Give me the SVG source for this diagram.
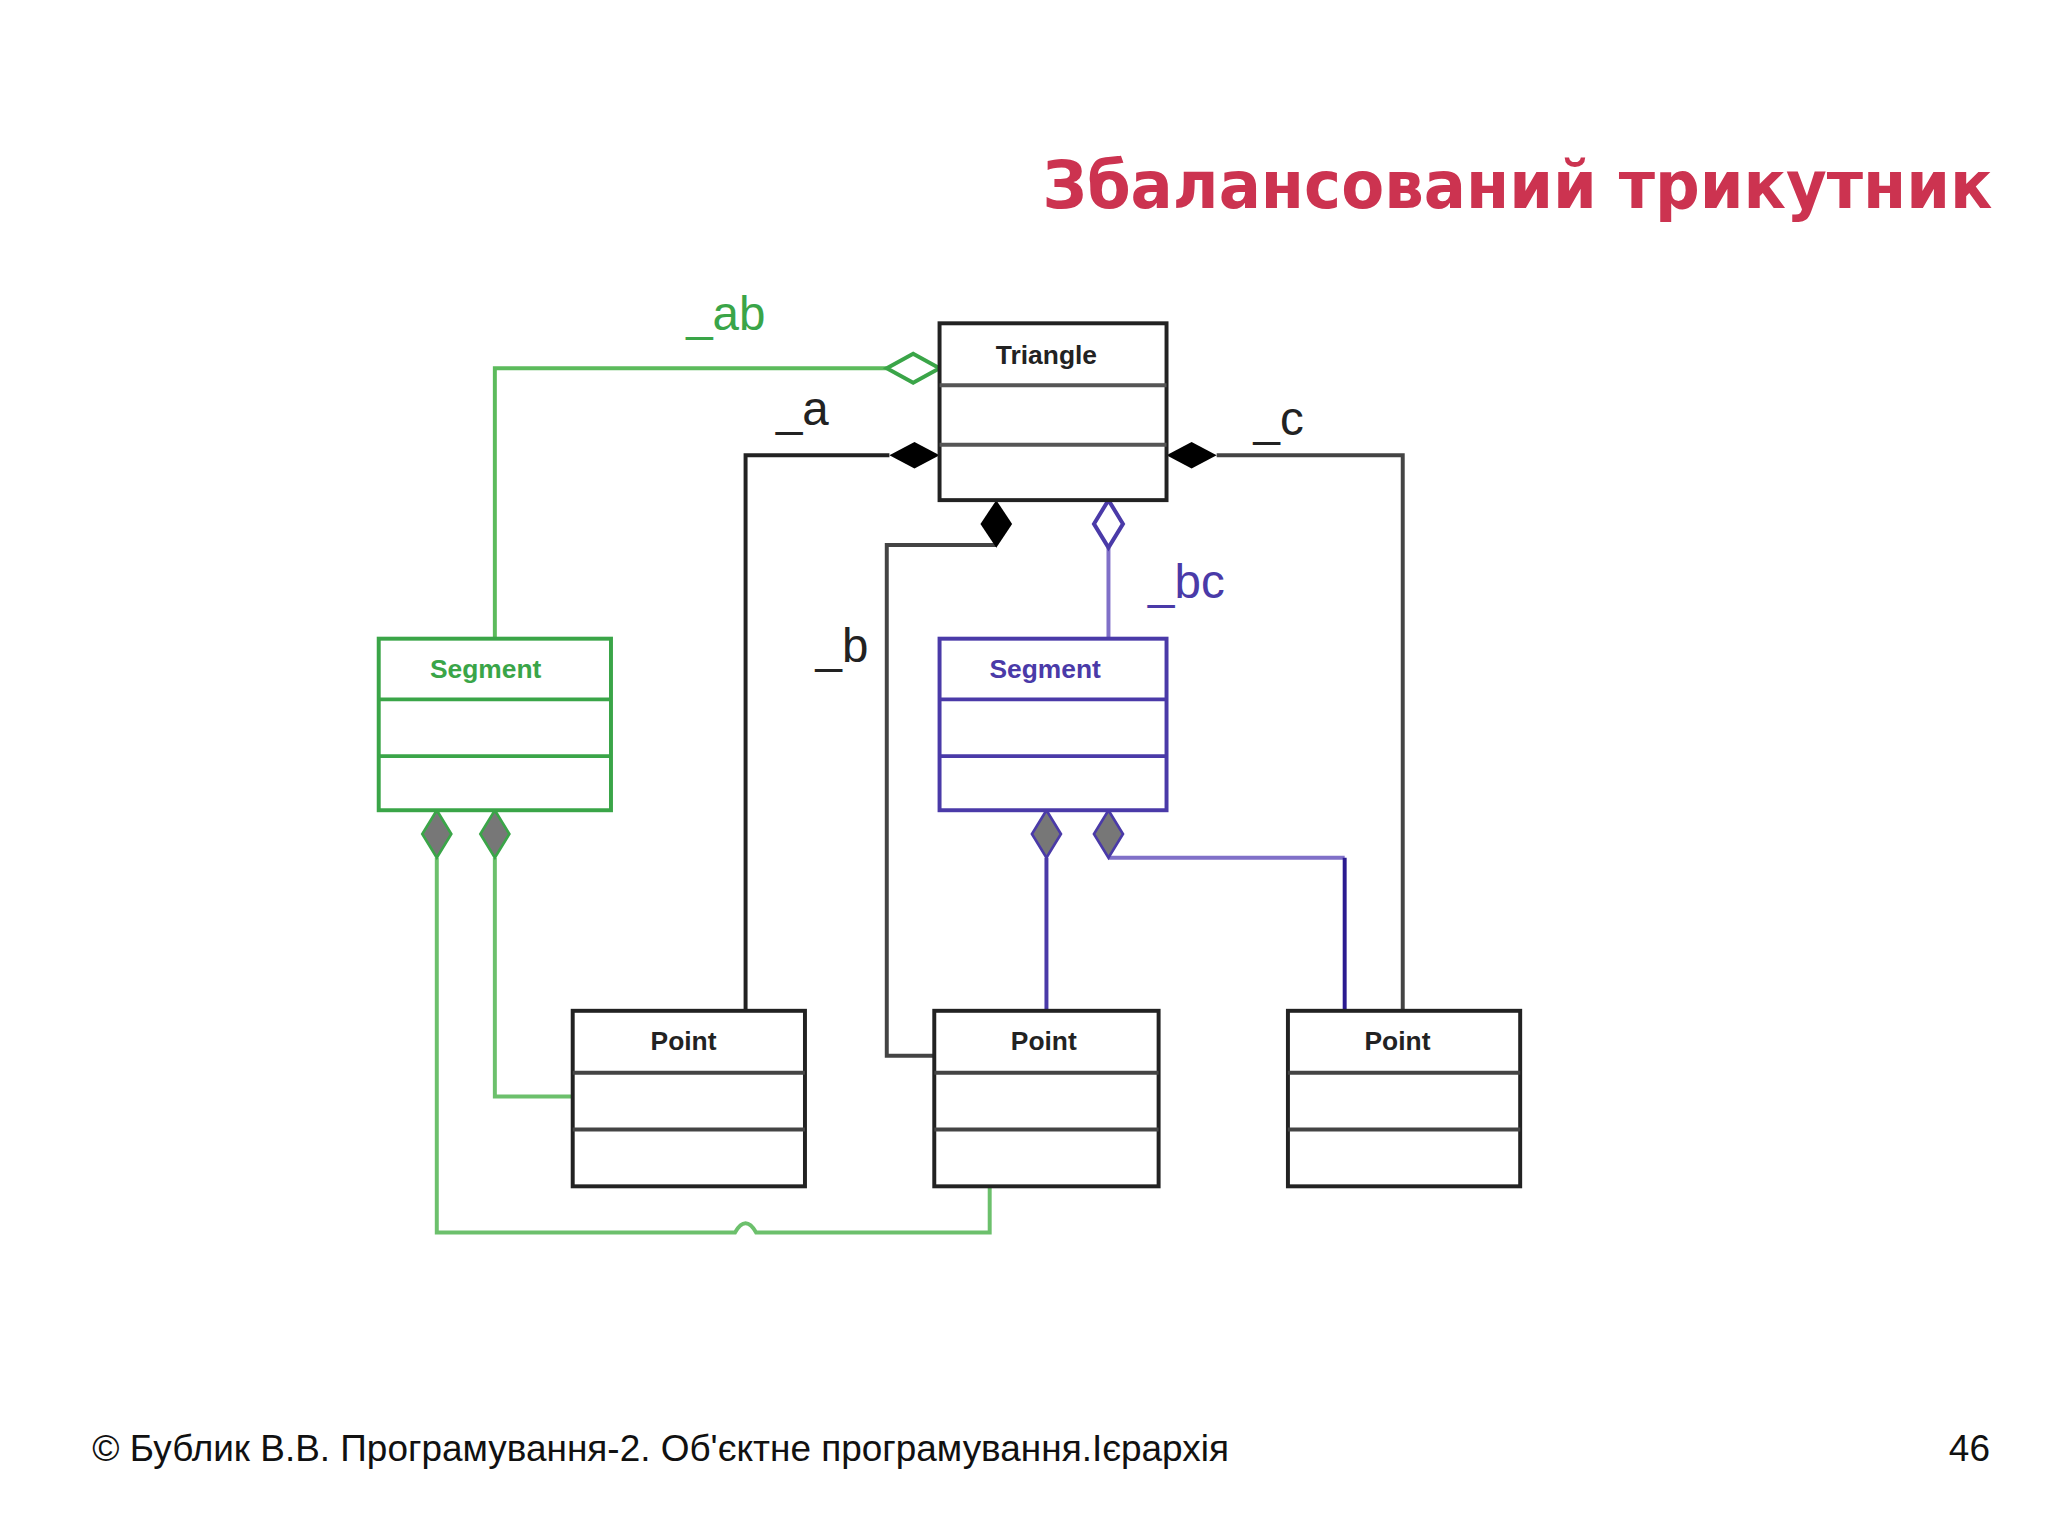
<svg xmlns="http://www.w3.org/2000/svg" width="2048" height="1536" viewBox="0 0 2048 1536">
<style>
.box{fill:#fff;stroke-width:3}
.k{stroke:#222}.g{stroke:#3aa548}.b{stroke:#4a3aa8}
.ln{fill:none;stroke-width:3}
.lbl{font-family:"Liberation Sans",Arial,sans-serif;font-size:36px}
.nm{font-family:"Liberation Sans",Arial,sans-serif;font-size:20px;font-weight:bold;text-anchor:middle}
</style>
<rect width="2048" height="1536" fill="#fff"/>
<g transform="scale(1.3196)">
<text x="1510" y="158" text-anchor="end" font-family="'DejaVu Sans',sans-serif" font-weight="bold" font-size="50" fill="#cc3350" textLength="720" lengthAdjust="spacingAndGlyphs">Збалансований трикутник</text>
<g id="connectors">
<path class="ln" stroke="#5cbb5c" d="M672,279 H375 V484"/>
<path class="ln" stroke="#222" d="M674,345 H565 V766"/>
<path class="ln" stroke="#444" d="M922,345 H1063 V766"/>
<path class="ln" stroke="#444" d="M755,413 H672 V800 H708"/>
<path class="ln" stroke="#8070c8" d="M840,415 V484"/>
<path class="ln" stroke="#6cc06c" d="M375,650 V831 H434"/>
<path class="ln" stroke="#6cc06c" d="M331,650 V934 H557 Q565,920 573,934 H750 V899"/>
<path class="ln" stroke="#4a3aa8" d="M793,650 V766"/>
<path class="ln" stroke="#8070c8" d="M840,650 H1019"/>
<path class="ln" stroke="#2a1a90" d="M1019,650 V766"/>
<path d="M672,279 L692,268 L712,279 L692,290 Z" fill="#fff" stroke="#3aa548" stroke-width="3"/>
<path d="M674,345 L693,335 L712,345 L693,355 Z" fill="#000"/>
<path d="M884,345 L903,335 L922,345 L903,355 Z" fill="#000"/>
<path d="M755,379 L767,397 L755,415 L743,397 Z" fill="#000"/>
<path d="M840,379 L851,397 L840,415 L829,397 Z" fill="#fff" stroke="#4a3aa8" stroke-width="3"/>
<path d="M331,614 L342,632 L331,650 L320,632 Z" fill="#777" stroke="#3aa548" stroke-width="2"/>
<path d="M375,614 L386,632 L375,650 L364,632 Z" fill="#777" stroke="#3aa548" stroke-width="2"/>
<path d="M793,614 L804,632 L793,650 L782,632 Z" fill="#777" stroke="#4a3aa8" stroke-width="2"/>
<path d="M840,614 L851,632 L840,650 L829,632 Z" fill="#777" stroke="#4a3aa8" stroke-width="2"/>
<text class="lbl" x="520" y="250" fill="#3aa548">_ab</text>
<text class="lbl" x="588" y="322" fill="#222">_a</text>
<text class="lbl" x="950" y="330" fill="#222">_c</text>
<text class="lbl" x="618" y="502" fill="#222">_b</text>
<text class="lbl" x="870" y="453" fill="#4a3aa8">_bc</text>
</g>
<g id="triangle"><rect class="box k" x="712" y="245" width="172" height="134"/><path class="ln" stroke="#555" d="M712,292 H884 M712,337 H884"/><text class="nm" x="793" y="276" fill="#222">Triangle</text></g>
<g id="segment-ab"><rect class="box g" x="287" y="484" width="176" height="130"/><path class="ln g" d="M287,530 H463 M287,573 H463"/><text class="nm" x="368" y="514" fill="#3aa548">Segment</text></g>
<g id="segment-bc"><rect class="box b" x="712" y="484" width="172" height="130"/><path class="ln b" d="M712,530 H884 M712,573 H884"/><text class="nm" x="792" y="514" fill="#4a3aa8">Segment</text></g>
<g id="point-a"><rect class="box k" x="434" y="766" width="176" height="133"/><path class="ln" stroke="#444" d="M434,813 H610 M434,856 H610"/><text class="nm" x="518" y="796" fill="#222">Point</text></g>
<g id="point-b"><rect class="box k" x="708" y="766" width="170" height="133"/><path class="ln" stroke="#444" d="M708,813 H878 M708,856 H878"/><text class="nm" x="791" y="796" fill="#222">Point</text></g>
<g id="point-c"><rect class="box k" x="976" y="766" width="176" height="133"/><path class="ln" stroke="#444" d="M976,813 H1152 M976,856 H1152"/><text class="nm" x="1059" y="796" fill="#222">Point</text></g>
<text x="70" y="1107" font-family="'Liberation Sans',Arial,sans-serif" font-size="28" fill="#111">© Бублик В.В. Програмування-2. Об'єктне програмування.Ієрархія</text>
<text x="1508" y="1107" text-anchor="end" font-family="'Liberation Sans',Arial,sans-serif" font-size="28" fill="#111">46</text>
</g>
</svg>
